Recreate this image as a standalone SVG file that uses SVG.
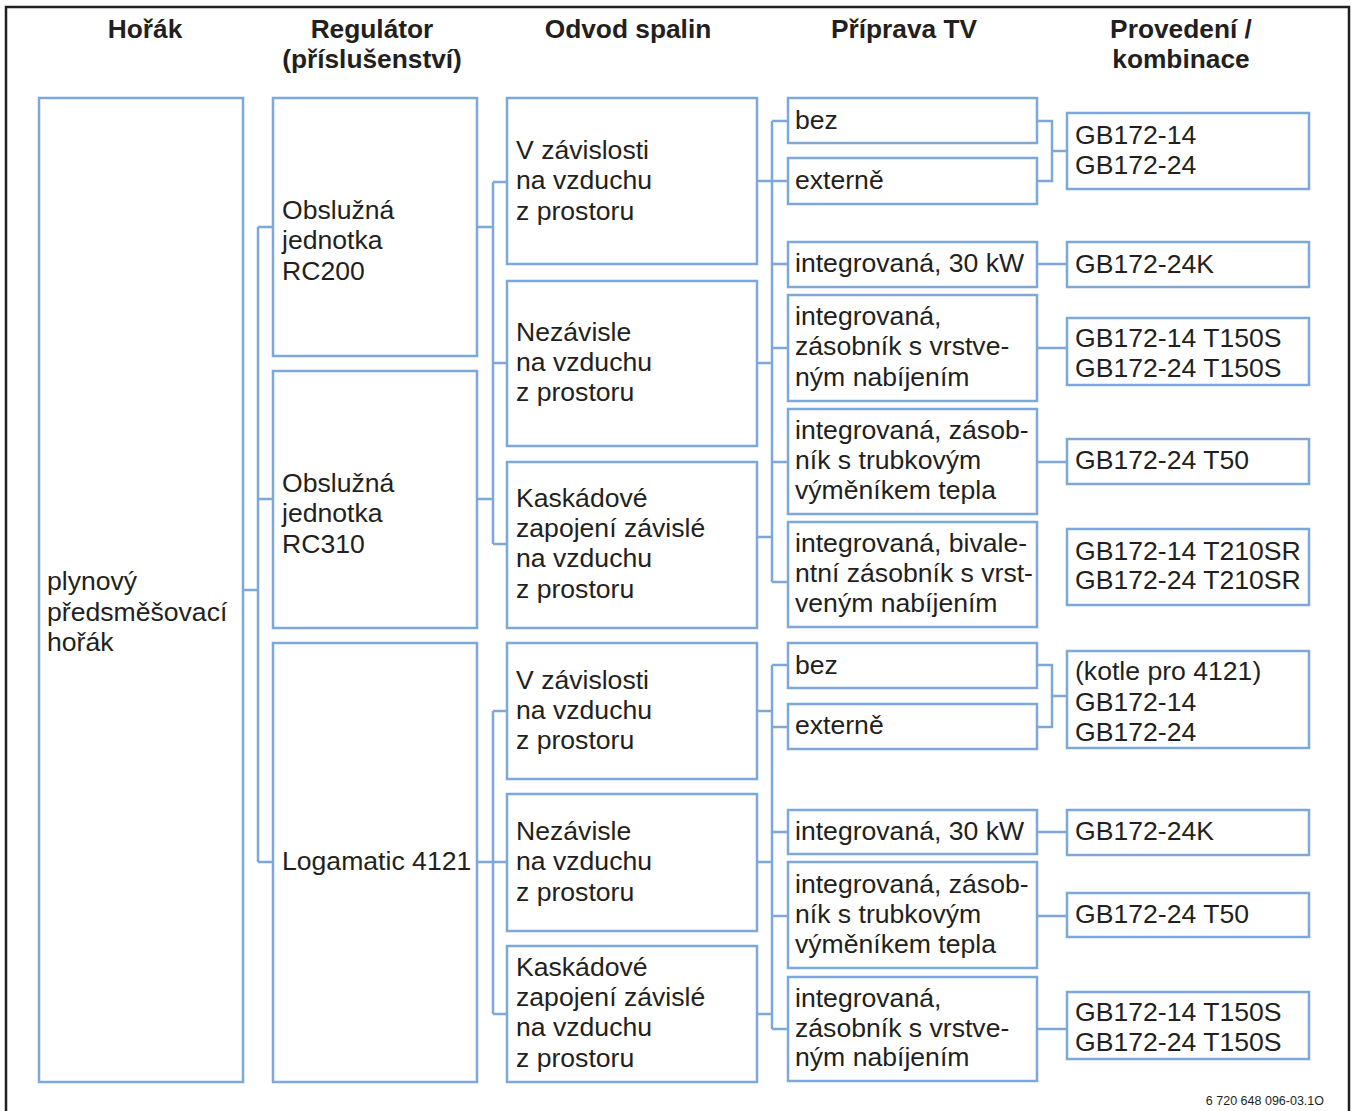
<svg xmlns="http://www.w3.org/2000/svg" width="1357" height="1111" viewBox="0 0 1357 1111">
<style>
.bg{fill:#ffffff}
.frame{fill:none;stroke:#231f20;stroke-width:2.5}
.box{fill:#ffffff;stroke:#7ea8da;stroke-width:2.5}
.conn{fill:none;stroke:#7ea8da;stroke-width:2.5}
text{font-family:"Liberation Sans",Arial,sans-serif;fill:#231f20}
.h{font-size:26.3px;font-weight:bold;text-anchor:middle}
.t{font-size:26.6px}
.note{font-size:12.5px;text-anchor:end}
</style>
<rect class="bg" x="0" y="0" width="1357" height="1111"/>
<rect class="frame" x="6" y="7" width="1343" height="1120"/>

<g id="headers">
<text class="h" x="145" y="38">Hořák</text>
<text class="h" x="372" y="38">Regulátor</text>
<text class="h" x="372" y="68">(příslušenství)</text>
<text class="h" x="628" y="38">Odvod spalin</text>
<text class="h" x="904" y="38">Příprava TV</text>
<text class="h" x="1181" y="38">Provedení /</text>
<text class="h" x="1181" y="68">kombinace</text>
</g>

<g id="connectors">
<path class="conn" d="M243,590 H258 M258,227 V862 M258,227 H273 M258,499 H273 M258,862 H273"/>
<path class="conn" d="M477,227 H493 M477,499 H493 M493,182 V544 M493,182 H507 M493,363 H507 M493,544 H507"/>
<path class="conn" d="M477,862 H507 M493,711 V1014 M493,711 H507 M493,1014 H507"/>
<path class="conn" d="M757,181 H772 M757,363 H772 M757,537 H772 M772,121 V582 M772,121 H788 M772,181 H788 M772,264 H788 M772,348 H788 M772,462 H788 M772,582 H788"/>
<path class="conn" d="M757,711 H772 M757,862 H772 M757,1014 H772 M772,665 V1029 M772,665 H788 M772,727 H788 M772,832 H788 M772,916 H788 M772,1029 H788"/>
<path class="conn" d="M1037,121 H1052 V181 H1037 M1052,151 H1067 M1037,264 H1067 M1037,348 H1067 M1037,462 H1067"/>
<path class="conn" d="M1037,665 H1052 V727 H1037 M1052,696 H1067 M1037,832 H1067 M1037,916 H1067 M1037,1029 H1067"/>
</g>

<g id="n-horak">
<rect class="box" x="39" y="98" width="204" height="984"/>
<text class="t" x="47" y="590">plynový</text>
<text class="t" x="47" y="621">předsměšovací</text>
<text class="t" x="47" y="651">hořák</text>
</g>

<g id="n-rc200">
<rect class="box" x="273" y="98" width="204" height="258"/>
<text class="t" x="282" y="219">Obslužná</text>
<text class="t" x="282" y="249">jednotka</text>
<text class="t" x="282" y="280">RC200</text>
</g>
<g id="n-rc310">
<rect class="box" x="273" y="371" width="204" height="257"/>
<text class="t" x="282" y="492">Obslužná</text>
<text class="t" x="282" y="522">jednotka</text>
<text class="t" x="282" y="553">RC310</text>
</g>
<g id="n-logamatic">
<rect class="box" x="273" y="643" width="204" height="439"/>
<text class="t" x="282" y="870">Logamatic 4121</text>
</g>

<g id="n-odvod-a1">
<rect class="box" x="507" y="98" width="250" height="166"/>
<text class="t" x="516" y="159">V závislosti</text>
<text class="t" x="516" y="189">na vzduchu</text>
<text class="t" x="516" y="220">z prostoru</text>
</g>
<g id="n-odvod-b1">
<rect class="box" x="507" y="281" width="250" height="165"/>
<text class="t" x="516" y="341">Nezávisle</text>
<text class="t" x="516" y="371">na vzduchu</text>
<text class="t" x="516" y="401">z prostoru</text>
</g>
<g id="n-odvod-c1">
<rect class="box" x="507" y="462" width="250" height="166"/>
<text class="t" x="516" y="507">Kaskádové</text>
<text class="t" x="516" y="537">zapojení závislé</text>
<text class="t" x="516" y="567">na vzduchu</text>
<text class="t" x="516" y="598">z prostoru</text>
</g>
<g id="n-odvod-a2">
<rect class="box" x="507" y="643" width="250" height="136"/>
<text class="t" x="516" y="689">V závislosti</text>
<text class="t" x="516" y="719">na vzduchu</text>
<text class="t" x="516" y="749">z prostoru</text>
</g>
<g id="n-odvod-b2">
<rect class="box" x="507" y="794" width="250" height="137"/>
<text class="t" x="516" y="840">Nezávisle</text>
<text class="t" x="516" y="870">na vzduchu</text>
<text class="t" x="516" y="901">z prostoru</text>
</g>
<g id="n-odvod-c2">
<rect class="box" x="507" y="946" width="250" height="136"/>
<text class="t" x="516" y="976">Kaskádové</text>
<text class="t" x="516" y="1006">zapojení závislé</text>
<text class="t" x="516" y="1036">na vzduchu</text>
<text class="t" x="516" y="1067">z prostoru</text>
</g>

<g id="n-tv-bez1">
<rect class="box" x="788" y="98" width="249" height="45"/>
<text class="t" x="795" y="129">bez</text>
</g>
<g id="n-tv-ext1">
<rect class="box" x="788" y="158" width="249" height="46"/>
<text class="t" x="795" y="189">externě</text>
</g>
<g id="n-tv-30kw1">
<rect class="box" x="788" y="242" width="249" height="45"/>
<text class="t" x="795" y="272">integrovaná, 30 kW</text>
</g>
<g id="n-tv-vrst1">
<rect class="box" x="788" y="295" width="249" height="106"/>
<text class="t" x="795" y="325">integrovaná,</text>
<text class="t" x="795" y="355">zásobník s vrstve-</text>
<text class="t" x="795" y="386">ným nabíjením</text>
</g>
<g id="n-tv-trub1">
<rect class="box" x="788" y="409" width="249" height="105"/>
<text class="t" x="795" y="439">integrovaná, zásob-</text>
<text class="t" x="795" y="469">ník s trubkovým</text>
<text class="t" x="795" y="499">výměníkem tepla</text>
</g>
<g id="n-tv-biv1">
<rect class="box" x="788" y="522" width="249" height="105"/>
<text class="t" x="795" y="552">integrovaná, bivale-</text>
<text class="t" x="795" y="582">ntní zásobník s vrst-</text>
<text class="t" x="795" y="612">veným nabíjením</text>
</g>
<g id="n-tv-bez2">
<rect class="box" x="788" y="643" width="249" height="45"/>
<text class="t" x="795" y="674">bez</text>
</g>
<g id="n-tv-ext2">
<rect class="box" x="788" y="704" width="249" height="45"/>
<text class="t" x="795" y="734">externě</text>
</g>
<g id="n-tv-30kw2">
<rect class="box" x="788" y="810" width="249" height="44"/>
<text class="t" x="795" y="840">integrovaná, 30 kW</text>
</g>
<g id="n-tv-trub2">
<rect class="box" x="788" y="862" width="249" height="106"/>
<text class="t" x="795" y="893">integrovaná, zásob-</text>
<text class="t" x="795" y="923">ník s trubkovým</text>
<text class="t" x="795" y="953">výměníkem tepla</text>
</g>
<g id="n-tv-vrst2">
<rect class="box" x="788" y="977" width="249" height="104"/>
<text class="t" x="795" y="1007">integrovaná,</text>
<text class="t" x="795" y="1037">zásobník s vrstve-</text>
<text class="t" x="795" y="1066">ným nabíjením</text>
</g>

<g id="n-p1">
<rect class="box" x="1067" y="113" width="242" height="76"/>
<text class="t" x="1075" y="144">GB172-14</text>
<text class="t" x="1075" y="174">GB172-24</text>
</g>
<g id="n-p2">
<rect class="box" x="1067" y="242" width="242" height="45"/>
<text class="t" x="1075" y="273">GB172-24K</text>
</g>
<g id="n-p3">
<rect class="box" x="1067" y="318" width="242" height="67"/>
<text class="t" x="1075" y="347">GB172-14 T150S</text>
<text class="t" x="1075" y="377">GB172-24 T150S</text>
</g>
<g id="n-p4">
<rect class="box" x="1067" y="439" width="242" height="45"/>
<text class="t" x="1075" y="469">GB172-24 T50</text>
</g>
<g id="n-p5">
<rect class="box" x="1067" y="529" width="242" height="76"/>
<text class="t" x="1075" y="560">GB172-14 T210SR</text>
<text class="t" x="1075" y="589">GB172-24 T210SR</text>
</g>
<g id="n-p6">
<rect class="box" x="1067" y="651" width="242" height="97"/>
<text class="t" x="1075" y="680">(kotle pro 4121)</text>
<text class="t" x="1075" y="711">GB172-14</text>
<text class="t" x="1075" y="741">GB172-24</text>
</g>
<g id="n-p7">
<rect class="box" x="1067" y="810" width="242" height="45"/>
<text class="t" x="1075" y="840">GB172-24K</text>
</g>
<g id="n-p8">
<rect class="box" x="1067" y="893" width="242" height="44"/>
<text class="t" x="1075" y="923">GB172-24 T50</text>
</g>
<g id="n-p9">
<rect class="box" x="1067" y="992" width="242" height="67"/>
<text class="t" x="1075" y="1021">GB172-14 T150S</text>
<text class="t" x="1075" y="1051">GB172-24 T150S</text>
</g>

<text class="note" x="1324" y="1105">6 720 648 096-03.1O</text>
</svg>
